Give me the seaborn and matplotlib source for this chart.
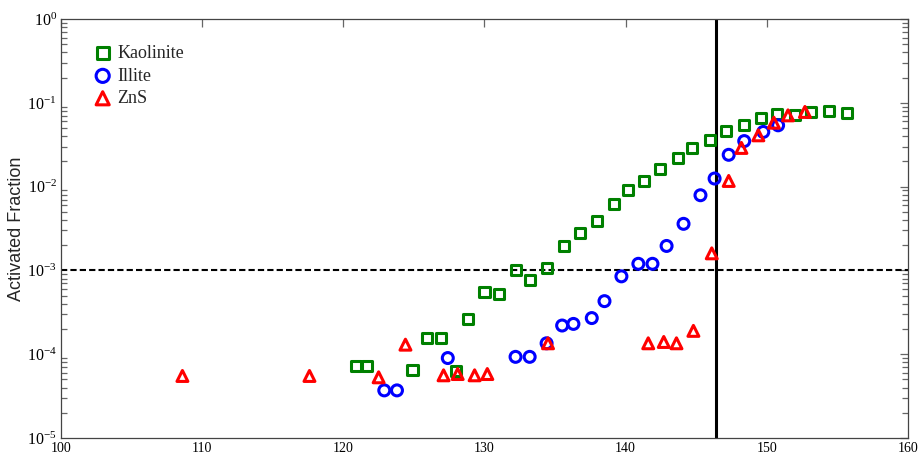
import numpy as np
import pandas as pd
import seaborn as sns
import matplotlib.pyplot as plt
from matplotlib.ticker import LogLocator, NullFormatter

# Kaolinite
kao_x = [120.9, 121.7, 124.9, 125.9, 126.9, 128.0, 128.8, 130.0, 131.0, 132.2,
         133.2, 134.4, 135.6, 136.8, 138.0, 139.2, 140.2, 141.3, 142.4, 143.7,
         144.7, 146.0, 147.1, 148.4, 149.6, 150.7, 152.0, 153.1, 154.4, 155.7]
kao_y = [7.2e-5, 7.2e-5, 6.5e-5, 1.56e-4, 1.55e-4, 6.3e-5, 2.6e-4, 5.5e-4, 5.3e-4, 1.0e-3,
         7.7e-4, 1.07e-3, 1.96e-3, 2.8e-3, 3.9e-3, 6.2e-3, 9.1e-3, 1.17e-2, 1.63e-2, 2.2e-2,
         2.9e-2, 3.6e-2, 4.6e-2, 5.5e-2, 6.6e-2, 7.3e-2, 7.1e-2, 7.7e-2, 8.0e-2, 7.6e-2]

# Illite
ill_x = [122.9, 123.8, 127.4, 132.2, 133.2, 134.4, 135.5, 136.3, 137.6, 138.5,
         139.7, 140.9, 141.9, 142.9, 144.1, 145.3, 146.3, 147.3, 148.4, 149.75, 150.8]
ill_y = [3.7e-5, 3.7e-5, 9.0e-5, 9.3e-5, 9.3e-5, 1.35e-4, 2.2e-4, 2.3e-4, 2.7e-4, 4.3e-4,
         8.5e-4, 1.2e-3, 1.2e-3, 1.96e-3, 3.6e-3, 7.9e-3, 1.25e-2, 2.4e-2, 3.5e-2, 4.5e-2, 5.4e-2]

# ZnS
zns_x = [108.6, 117.6, 122.5, 124.4, 127.1, 128.1, 129.3, 130.2, 134.5, 141.6,
         142.7, 143.6, 144.8, 146.1, 147.3, 148.2, 149.4, 150.5, 151.5, 152.7]
zns_y = [5.5e-5, 5.5e-5, 5.3e-5, 1.3e-4, 5.6e-5, 5.8e-5, 5.6e-5, 5.8e-5, 1.35e-4, 1.35e-4,
         1.4e-4, 1.35e-4, 1.9e-4, 1.6e-3, 1.17e-2, 2.9e-2, 4.1e-2, 5.8e-2, 7.1e-2, 7.8e-2]

threshold = 1e-3
vline_x = 146.4

sns.set_style('white')
plt.rcParams['font.family'] = ['Liberation Serif', 'DejaVu Serif']
plt.rcParams['mathtext.fontset'] = 'stix'

fig = plt.figure(figsize=(9.19, 4.55), dpi=100)
ax = fig.add_axes([0.0664, 0.0374, 0.9216, 0.9206])

series = [
    ('Kaolinite', kao_x, kao_y, 's', 'green', 52),
    ('Illite', ill_x, ill_y, 'o', 'blue', 62),
    ('ZnS', zns_x, zns_y, '^', 'red', 62),
]
for name, xs, ys, mk, col, sz in series:
    df = pd.DataFrame({'x': xs, 'y': ys})
    sns.scatterplot(data=df, x='x', y='y', marker=mk, s=sz, facecolors='none',
                    edgecolor=col, linewidths=2.2, ax=ax, label=name, zorder=3)

ax.axhline(threshold, color='black', linestyle=(0, (3.0, 1.5)), linewidth=1.5, zorder=2)
ax.axvline(vline_x, color='black', linewidth=2.2, zorder=2)

ax.set_yscale('log')
ax.set_xlim(100, 160)
ax.set_ylim(1e-5, 1)
ax.set_xticks(range(100, 161, 10))
ax.set_yticks([1e-5, 1e-4, 1e-3, 1e-2, 1e-1, 1])
ax.set_yticklabels([r'$\mathregular{10^{%d}}$' % e for e in range(-5, 1)])
ax.yaxis.set_minor_locator(LogLocator(base=10, subs=np.arange(2, 10), numticks=20))
ax.yaxis.set_minor_formatter(NullFormatter())
ax.tick_params(which='both', direction='in', top=True, right=True, colors='#666666',
               labelcolor='black')
ax.tick_params(which='major', length=6, width=0.9)
ax.tick_params(which='minor', length=4, width=0.9, left=True, right=True)
ax.tick_params(axis='x', pad=3, labelsize=10)
ax.tick_params(axis='y', pad=3, labelsize=11.5)
for sp in ax.spines.values():
    sp.set_color('#444444')
    sp.set_linewidth(0.9)

ax.set_xlabel('')
ax.set_ylabel('Activated Fraction', family=['Liberation Sans', 'DejaVu Sans'], fontsize=13)
ax.yaxis.set_label_coords(-0.043, 0.5)

leg = ax.legend(loc='upper left', bbox_to_anchor=(0.03, 0.955), frameon=False,
                fontsize=13, handlelength=1.0, handletextpad=0.3, labelspacing=0.3,
                borderaxespad=0, markerscale=1.2)
for h in leg.legend_handles:
    h.set_linewidth(2.2)

plt.savefig('out.png', dpi=100)
plt.close()
